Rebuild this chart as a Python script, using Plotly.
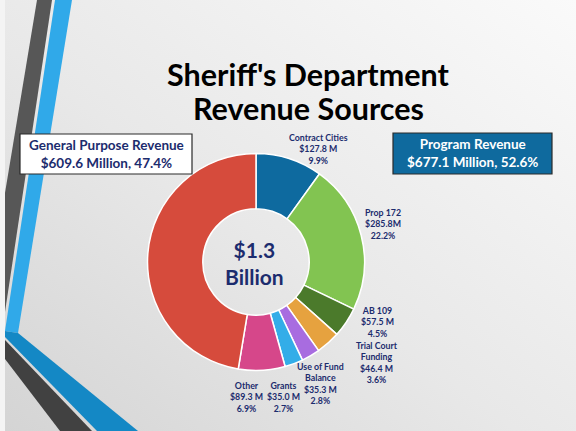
import base64
import plotly.graph_objects as go

W, H = 576, 431

# Revenue sources, clockwise from 12 o'clock
sources = ["Contract Cities", "Prop 172", "AB 109", "Trial Court Funding",
           "Use of Fund Balance", "Grants", "Other", "General Purpose Revenue"]
amounts = [127.8, 285.8, 57.5, 46.4, 35.3, 35.0, 89.3, 609.6]   # $ millions
shares = [9.9, 22.2, 4.5, 3.6, 2.8, 2.7, 6.9, 47.4]               # percent
colors = ["#0E6A9F", "#82C451", "#4B7A2B", "#E6A23F",
          "#A86CE0", "#33ADE8", "#D6478A", "#D64B3C"]

# Group totals shown in the two boxes
group_names = ["General Purpose Revenue", "Program Revenue"]
group_amounts = [609.6, 677.1]
group_shares = [47.4, 52.6]
total_text = "$1.3<br>Billion"

NAVY = "#1C2C6E"
FONT = "Lato"


def px(x, y):
    """Pixel position -> paper coordinates."""
    return x / W, 1 - y / H


def poly(points):
    parts = []
    for i, (x, y) in enumerate(points):
        u, v = px(x, y)
        parts.append(("M" if i == 0 else "L") + f"{u:.5f},{v:.5f}")
    return " ".join(parts) + " Z"


cx, cy, r = 256, 262, 108.5
u0, v0 = px(cx - r, cy + r)
u1, v1 = px(cx + r, cy - r)

fig = go.Figure(go.Pie(
    labels=sources,
    values=amounts,
    sort=False,
    direction="clockwise",
    rotation=0,
    hole=0.49,
    marker=dict(colors=colors, line=dict(color="white", width=1.5)),
    textinfo="none",
    hoverinfo="label+value+percent",
    showlegend=False,
    domain=dict(x=[u0, u1], y=[v0, v1]),
))

# Soft grey slide background
svg = (
    f'<svg xmlns="http://www.w3.org/2000/svg" width="{W}" height="{H}">'
    '<defs><linearGradient id="g" x1="1" y1="0" x2="0" y2="1">'
    '<stop offset="0" stop-color="#fafafa"/>'
    '<stop offset="0.55" stop-color="#e8e8e8"/>'
    '<stop offset="1" stop-color="#d4d4d4"/>'
    '</linearGradient></defs>'
    f'<rect width="{W}" height="{H}" fill="url(#g)"/></svg>'
)
bg = "data:image/svg+xml;base64," + base64.b64encode(svg.encode()).decode()

shapes = [
    # white margin at the far left
    dict(type="path", path=poly([(0, 0), (5, 0), (5, H), (0, H)]),
         fillcolor="#f4f4f4", line=dict(width=0)),
    # dark vertical band
    dict(type="path", path=poly([(37, 0), (52, 0), (5, 312), (5, 193)]),
         fillcolor="#575757", line=dict(width=0)),
    # light blue vertical band
    dict(type="path", path=poly([(55, 0), (72, 0), (18, 333), (5, 331)]),
         fillcolor="#30A9E9", line=dict(width=0)),
    # darker blue diagonal band
    dict(type="path", path=poly([(5, 331), (18, 333), (138, H), (97, H), (5, 337)]),
         fillcolor="#1488C5", line=dict(width=0)),
    # dark diagonal band
    dict(type="path", path=poly([(5, 340), (92, H), (60, H), (5, 359)]),
         fillcolor="#414141", line=dict(width=0)),
]

# Group boxes
bx = [(20, 134, 192, 174, "white", NAVY), (393, 133, 552, 174, "#0F6A9E", "white")]
annotations = []
for (x0, y0, x1, y1, fill, tc), name, amt, sh in zip(bx, group_names, group_amounts, group_shares):
    a, b = px(x0, y0)
    c, d = px(x1, y1)
    shapes.append(dict(type="rect", xref="paper", yref="paper", x0=a, y0=d, x1=c, y1=b,
                       fillcolor=fill, line=dict(color="#2a2a2a", width=1.2)))
    mx, my = px((x0 + x1) / 2, (y0 + y1) / 2)
    annotations.append(dict(
        x=mx, y=my, xref="paper", yref="paper", showarrow=False,
        text=f"<b>{name}<br>${amt:.1f} Million, {sh:.1f}%</b>",
        font=dict(family=FONT, size=13.5, color=tc), align="center",
        xanchor="center", yanchor="middle"))

# Title
for line, yy in [("Sheriff's Department", 74), ("Revenue Sources", 108)]:
    tx, ty = px(308, yy)
    annotations.append(dict(x=tx, y=ty, xref="paper", yref="paper", showarrow=False,
                            text=f"<b>{line}</b>", xanchor="center", yanchor="middle",
                            font=dict(family=FONT, size=30.5, color="black")))

# Centre total
tx, ty = px(254, 263)
annotations.append(dict(x=tx, y=ty, xref="paper", yref="paper", showarrow=False,
                        text=f"<b>{total_text}</b>", xanchor="center", yanchor="middle",
                        font=dict(family=FONT, size=21, color=NAVY), align="center"))

# Slice labels: name lines, amount, share
label_pos = {
    "Contract Cities": (318, 149, "Contract Cities"),
    "Prop 172": (383, 224, "Prop 172"),
    "AB 109": (377, 322, "AB 109"),
    "Trial Court Funding": (377, 362, "Trial Court<br>Funding"),
    "Use of Fund Balance": (320, 383, "Use of Fund<br>Balance"),
    "Grants": (283, 397, "Grants"),
    "Other": (246, 397, "Other"),
}
for name, amt, sh in zip(sources, amounts, shares):
    if name not in label_pos:
        continue
    x, y, txt = label_pos[name]
    amt_txt = f"${amt:.1f}M" if name == "Prop 172" else f"${amt:.1f} M"
    tx, ty = px(x, y)
    annotations.append(dict(x=tx, y=ty, xref="paper", yref="paper", showarrow=False,
                            text=f"<b>{txt}<br>{amt_txt}<br>{sh:.1f}%</b>",
                            xanchor="center", yanchor="middle", align="center",
                            font=dict(family=FONT, size=8.8, color=NAVY)))

fig.update_layout(
    width=W, height=H,
    margin=dict(l=0, r=0, t=0, b=0),
    paper_bgcolor="#ececec",
    plot_bgcolor="rgba(0,0,0,0)",
    images=[dict(source=bg, xref="paper", yref="paper", x=0, y=1, sizex=1, sizey=1,
                 sizing="stretch", layer="below", xanchor="left", yanchor="top")],
    shapes=[dict(s, xref="paper", yref="paper") if "xref" not in s else s for s in shapes],
    annotations=annotations,
)

fig.write_html("out.html")
